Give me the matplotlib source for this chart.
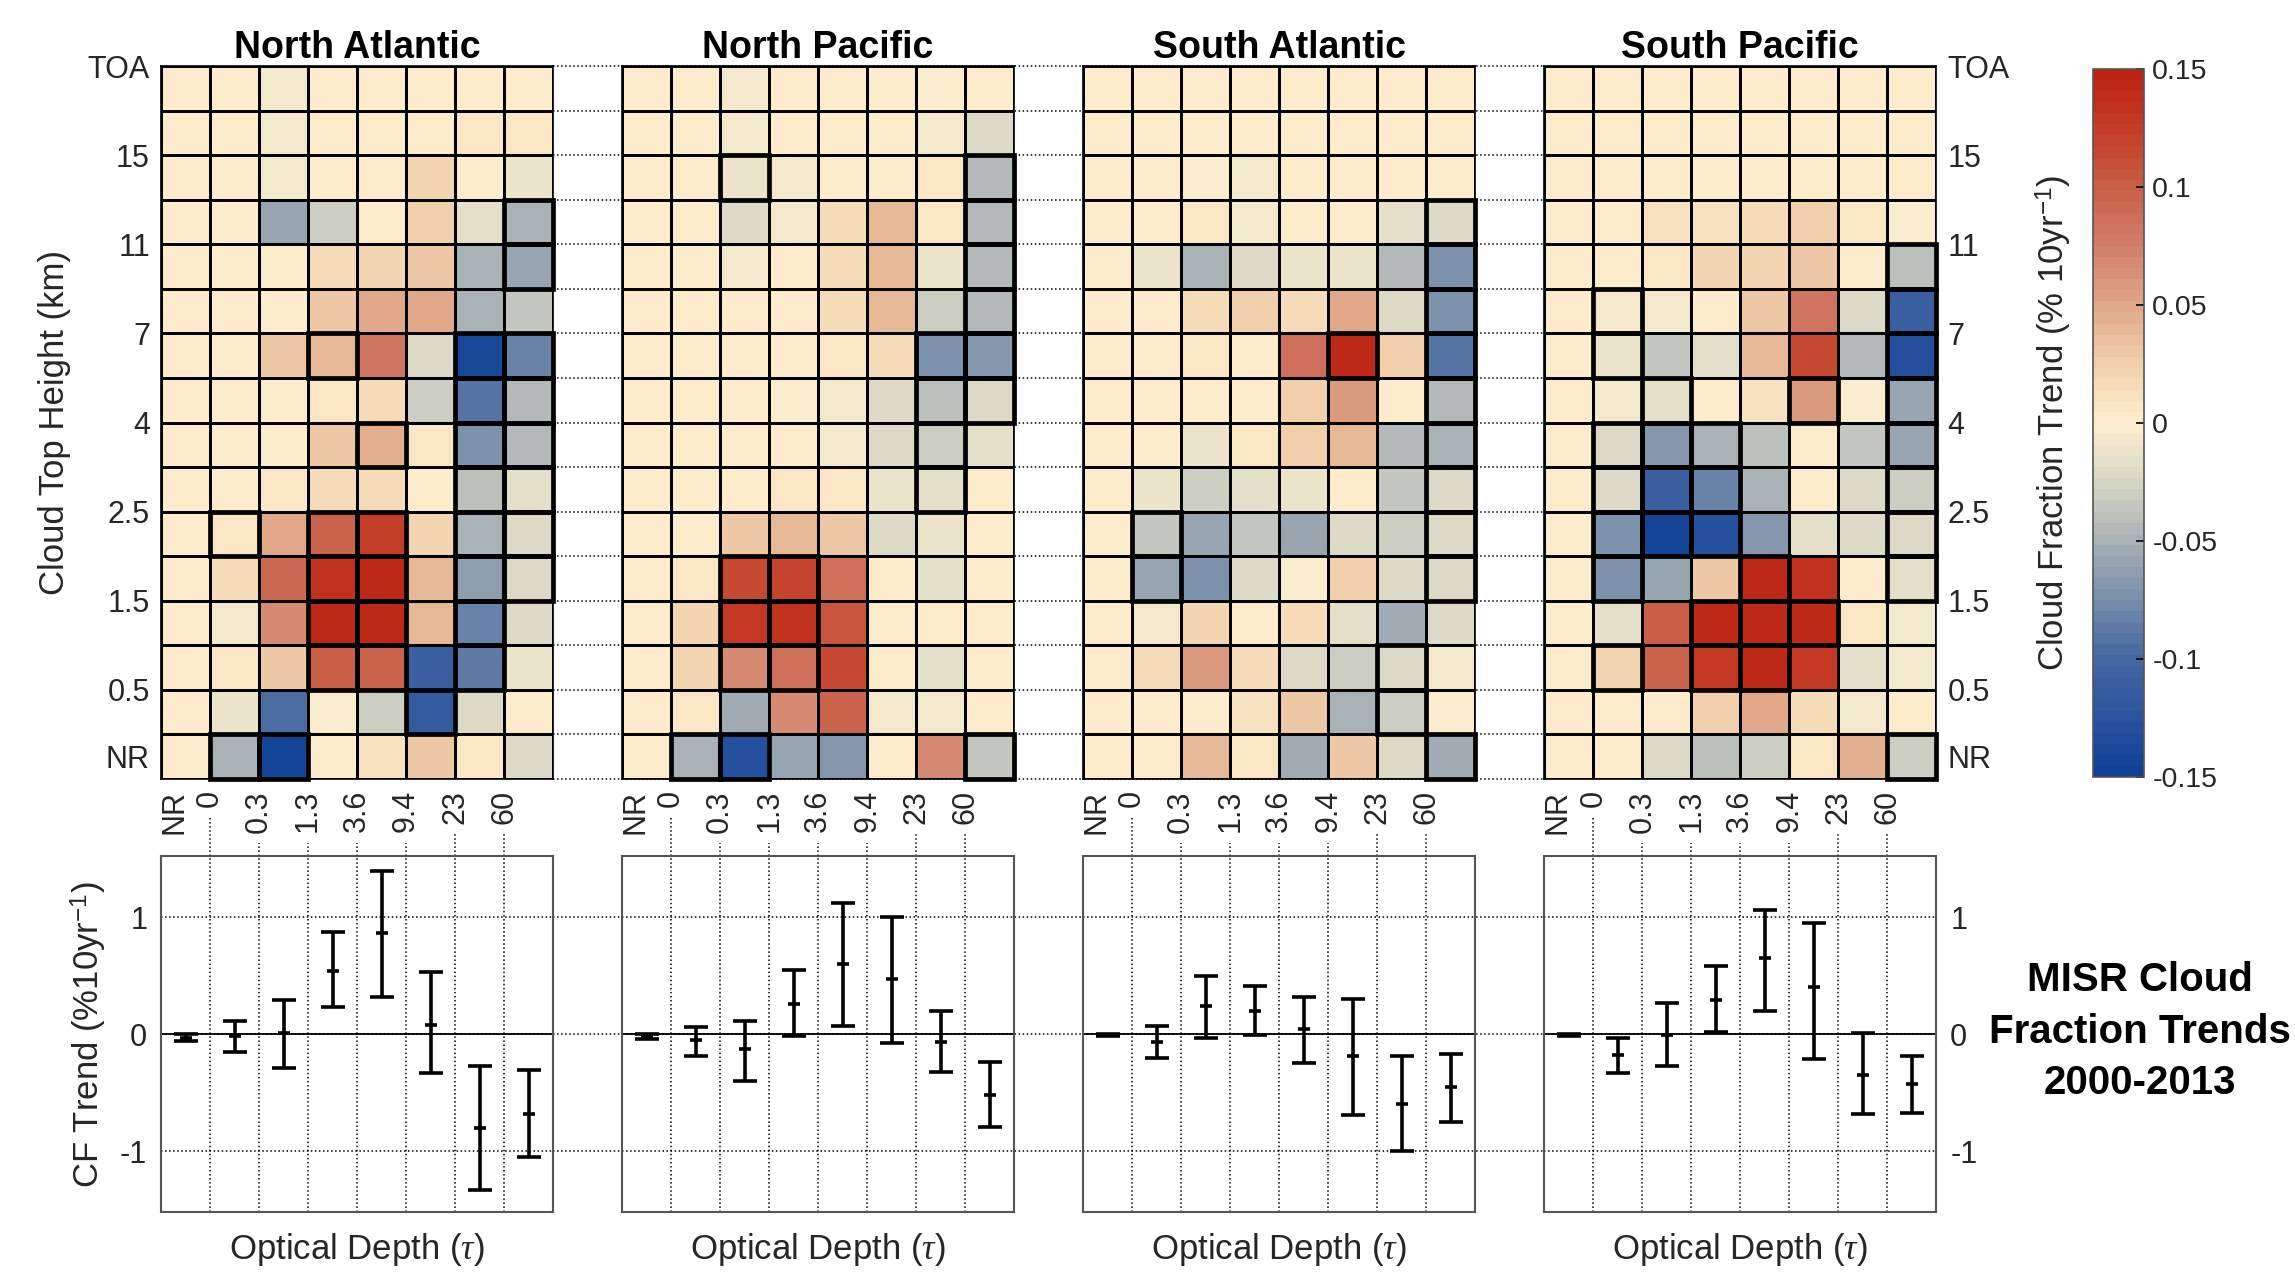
import numpy as np
import matplotlib
matplotlib.use('Agg')
import matplotlib.pyplot as plt
from matplotlib.colors import LinearSegmentedColormap
from matplotlib.patches import Rectangle

plt.rcParams['font.family'] = ['Liberation Sans', 'DejaVu Sans']
plt.rcParams['mathtext.fontset'] = 'custom'
plt.rcParams['mathtext.rm'] = 'Liberation Sans'
plt.rcParams['mathtext.it'] = 'Liberation Serif:italic'
plt.rcParams['axes.unicode_minus'] = False

regions = ['North Atlantic', 'North Pacific', 'South Atlantic', 'South Pacific']
height_labels = ['NR', '0.5', '1.5', '2.5', '4', '7', '11', '15', 'TOA']
tau_labels = ['NR', '0', '0.3', '1.3', '3.6', '9.4', '23', '60']

# CTH-OD trends (% 10yr-1), rows from TOA down to NR, columns NR, 0-0.3, ..., >60
trend_na = [
    [0, 0, -0.005, 0, 0, 0.001, 0.004, 0.004],
    [0, 0, -0.005, 0.001, 0.001, 0.002, 0.006, 0.005],
    [0, 0, -0.005, 0.001, 0.002, 0.022, 0.002, -0.012],
    [0, 0, -0.06, -0.03, 0.002, 0.028, -0.015, -0.05],
    [0, 0, 0.002, 0.018, 0.022, 0.03, -0.05, -0.06],
    [0, 0, 0.002, 0.03, 0.05, 0.047, -0.05, -0.035],
    [0, 0, 0.032, 0.04, 0.082, -0.02, -0.14, -0.08],
    [0, 0, 0.002, 0.007, 0.018, -0.03, -0.09, -0.045],
    [0, 0, 0.003, 0.03, 0.045, 0.007, -0.075, -0.045],
    [0, 0, 0.005, 0.015, 0.018, 0.001, -0.04, -0.015],
    [0, 0.006, 0.05, 0.095, 0.125, 0.022, -0.05, -0.022],
    [0, 0.015, 0.09, 0.135, 0.145, 0.04, -0.065, -0.022],
    [0, -0.005, 0.07, 0.145, 0.145, 0.04, -0.08, -0.02],
    [0, 0.006, 0.032, 0.1, 0.097, -0.11, -0.085, -0.01],
    [0, -0.012, -0.095, -0.004, -0.03, -0.115, -0.022, 0.002],
    [0, -0.05, -0.145, 0.003, 0.013, 0.032, 0.005, -0.022],
]
trend_np = [
    [0, 0, -0.005, 0.002, 0.002, 0.001, -0.002, 0.002],
    [0, 0, -0.005, 0.002, 0.002, 0.002, -0.006, -0.02],
    [0, 0, -0.01, -0.007, 0.002, 0.003, 0.008, -0.045],
    [0, 0.001, -0.02, -0.007, 0.018, 0.04, 0.008, -0.045],
    [0, 0, -0.007, 0.003, 0.015, 0.04, -0.01, -0.045],
    [0, 0, 0.002, 0.004, 0.015, 0.04, -0.03, -0.045],
    [0, 0, 0.001, 0.002, 0.006, 0.015, -0.075, -0.068],
    [0, 0, 0, -0.003, -0.005, -0.02, -0.04, -0.022],
    [0, 0, 0.002, 0, -0.007, -0.02, -0.03, -0.015],
    [0, 0, 0.003, 0.005, 0.006, -0.01, -0.015, 0.002],
    [0, 0, 0.032, 0.04, 0.032, -0.02, -0.01, 0.002],
    [0, 0.008, 0.115, 0.118, 0.085, 0.001, -0.015, 0.002],
    [0, 0.022, 0.128, 0.132, 0.105, 0.001, 0.002, 0.004],
    [0, 0.022, 0.07, 0.085, 0.115, 0.002, -0.015, 0.003],
    [0, 0.008, -0.055, 0.07, 0.095, -0.005, -0.005, 0.002],
    [0, -0.05, -0.13, -0.06, -0.068, 0.002, 0.07, -0.035],
]
trend_sa = [
    [0, 0, 0, 0, 0, 0.001, 0, 0],
    [0, 0, 0, 0, 0, 0, 0, 0],
    [0, 0, -0.004, -0.006, 0, 0, 0, 0],
    [0, 0, 0.006, -0.006, 0.001, 0.001, -0.015, -0.022],
    [0, -0.01, -0.05, -0.02, -0.01, -0.01, -0.045, -0.075],
    [0, 0.002, 0.018, 0.028, 0.015, 0.05, -0.022, -0.075],
    [0, 0.002, 0.005, 0.002, 0.085, 0.145, 0.028, -0.09],
    [0, 0, 0.001, 0.002, 0.028, 0.06, 0.001, -0.045],
    [0, 0, -0.01, 0.005, 0.028, 0.04, -0.045, -0.05],
    [0, -0.01, -0.03, -0.015, -0.01, 0.002, -0.035, -0.022],
    [0, -0.035, -0.06, -0.035, -0.06, -0.022, -0.03, -0.022],
    [0, -0.06, -0.075, -0.02, -0.004, 0.028, -0.02, -0.022],
    [0, -0.005, 0.022, 0.002, 0.015, -0.015, -0.055, -0.022],
    [0, 0.018, 0.06, 0.018, -0.02, -0.03, -0.022, -0.006],
    [0, 0.002, 0.004, 0.012, 0.032, -0.05, -0.03, -0.003],
    [0, 0.004, 0.038, 0.006, -0.055, 0.032, -0.02, -0.055],
]
trend_sp = [
    [0, 0, 0, 0.001, 0.002, 0.001, 0.002, 0.002],
    [0, 0, 0, 0, 0.001, 0.001, 0.002, 0.001],
    [0, 0, 0.001, 0.001, 0.002, 0.004, 0.003, 0.001],
    [0, 0.001, 0.014, 0.014, 0.018, 0.028, 0.006, -0.004],
    [0, 0, 0.008, 0.022, 0.022, 0.032, 0.003, -0.04],
    [0, -0.006, -0.006, 0.002, 0.032, 0.082, -0.02, -0.11],
    [0, -0.01, -0.035, -0.015, 0.04, 0.115, -0.045, -0.13],
    [0, -0.007, -0.015, 0.002, 0.014, 0.06, -0.003, -0.06],
    [0, -0.02, -0.068, -0.05, -0.04, 0.002, -0.035, -0.06],
    [0, -0.022, -0.11, -0.08, -0.05, 0.002, -0.022, -0.03],
    [0, -0.075, -0.145, -0.13, -0.068, -0.015, -0.022, -0.022],
    [0, -0.075, -0.06, 0.032, 0.145, 0.132, 0.003, -0.015],
    [0, -0.015, 0.1, 0.145, 0.145, 0.145, 0.006, -0.006],
    [0, 0.022, 0.095, 0.128, 0.145, 0.128, -0.015, -0.006],
    [0, 0.002, 0.003, 0.028, 0.05, 0.018, -0.006, 0.001],
    [0, 0.003, -0.022, -0.04, -0.03, 0.006, 0.045, -0.03],
]

# significant bins as (height bin counted from NR, optical depth bin)
sig_na = [(12, 7), (11, 7), (9, 7), (8, 7), (7, 7), (6, 7), (5, 7), (4, 7),
          (9, 3), (7, 4), (5, 1), (5, 3), (4, 3), (3, 3), (2, 3),
          (5, 4), (4, 4), (3, 4), (2, 4), (9, 6), (8, 6), (7, 6), (6, 6),
          (5, 6), (4, 6), (3, 6), (2, 6), (1, 5), (0, 1), (0, 2)]
sig_np = [(13, 2), (13, 7), (12, 7), (11, 7), (10, 7), (9, 7), (8, 7),
          (9, 6), (8, 6), (7, 6), (6, 6), (4, 2), (3, 2), (2, 2),
          (4, 3), (3, 3), (2, 3), (0, 1), (0, 2), (0, 7)]
sig_sa = [(12, 7), (11, 7), (10, 7), (9, 7), (8, 7), (7, 7), (6, 7), (5, 7),
          (4, 7), (9, 5), (5, 1), (4, 1), (2, 6), (1, 6), (0, 7)]
sig_sp = [(10, 1), (9, 1), (8, 2), (8, 5), (7, 1), (6, 1), (5, 1), (4, 1),
          (7, 2), (6, 2), (5, 2), (7, 3), (6, 3), (5, 3), (11, 7), (10, 7),
          (9, 7), (8, 7), (7, 7), (6, 7), (5, 7), (4, 7), (4, 4), (3, 4),
          (2, 4), (3, 3), (2, 3), (3, 5), (2, 1), (0, 7)]

# height-integrated CF trend per optical depth bin with its uncertainty range
cf_na = [-0.03, -0.02, 0.01, 0.54, 0.86, 0.08, -0.80, -0.68]
lo_na = [-0.06, -0.15, -0.29, 0.23, 0.32, -0.33, -1.33, -1.05]
hi_na = [0.0, 0.11, 0.29, 0.87, 1.39, 0.53, -0.27, -0.31]
cf_np = [-0.02, -0.05, -0.13, 0.26, 0.60, 0.47, -0.07, -0.52]
lo_np = [-0.04, -0.19, -0.40, -0.02, 0.07, -0.08, -0.32, -0.79]
hi_np = [0.0, 0.06, 0.11, 0.55, 1.12, 1.0, 0.20, -0.24]
cf_sa = [-0.01, -0.07, 0.24, 0.20, 0.04, -0.19, -0.60, -0.45]
lo_sa = [-0.02, -0.20, -0.03, -0.01, -0.25, -0.69, -1.0, -0.75]
hi_sa = [0.0, 0.07, 0.50, 0.41, 0.32, 0.30, -0.19, -0.17]
cf_sp = [-0.01, -0.18, -0.01, 0.29, 0.65, 0.40, -0.35, -0.43]
lo_sp = [-0.02, -0.33, -0.27, 0.02, 0.20, -0.21, -0.68, -0.67]
hi_sp = [0.0, -0.03, 0.27, 0.58, 1.06, 0.95, 0.01, -0.19]

trends = [trend_na, trend_np, trend_sa, trend_sp]
sigs = [sig_na, sig_np, sig_sa, sig_sp]
cfs = [cf_na, cf_np, cf_sa, cf_sp]
los = [lo_na, lo_np, lo_sa, lo_sp]
his = [hi_na, hi_np, hi_sa, hi_sp]

cmap = LinearSegmentedColormap.from_list('trend', [
    (0.0, '#0F4094'), (1/12, '#2A55A0'), (2/12, '#4668A0'), (3/12, '#7A8FAA'),
    (4/12, '#A9B2B5'), (5/12, '#D7D7C6'), (6/12, '#FDEFCF'), (7/12, '#F2D1AD'),
    (8/12, '#E0A888'), (9/12, '#D2806A'), (10/12, '#C96049'),
    (11/12, '#C43E27'), (1.0, '#BD2312')], N=64)

fig = plt.figure(figsize=(22.95, 12.8), dpi=100)

x0, dx, w = 0.0702, 0.2009, 0.1708
hm_y, hm_h = 0.3914, 0.557
bt_y, bt_h = 0.0531, 0.278
ylo, yhi = -1.52, 1.52

hm_axes, bt_axes = [], []
for i in range(4):
    ax = fig.add_axes([x0 + i * dx, hm_y, w, hm_h])
    data = np.flipud(np.array(trends[i]))
    mesh = ax.pcolormesh(np.arange(9), np.arange(17), data, cmap=cmap,
                         vmin=-0.15, vmax=0.15, edgecolors='k', linewidth=1.0)
    for r, c in sigs[i]:
        ax.add_patch(Rectangle((c, r), 1, 1, fill=False, ec='k', lw=3.4,
                               zorder=3, clip_on=False))
    ax.set_xlim(0, 8)
    ax.set_ylim(0, 16)
    # the NR label sits left of the first boundary so it clears the "0"
    ax.set_xticks([0.27, 1, 2, 3, 4, 5, 6, 7])
    ax.set_xticklabels(tau_labels, rotation=90, fontsize=22, color='#262626')
    ax.set_yticks([0.5, 2, 4, 6, 8, 10, 12, 14, 16])
    ax.set_yticklabels(height_labels, fontsize=22, color='#262626')
    ax.tick_params(length=0, pad=8)
    if i == 0:
        ax.set_ylabel('Cloud Top Height (km)', fontsize=25, color='#262626',
                      labelpad=12)
    elif i == 3:
        ax.yaxis.tick_right()
    else:
        ax.tick_params(labelleft=False)
    for s in ax.spines.values():
        s.set_linewidth(1.2)
    ax.set_title(regions[i], fontsize=27, fontweight='bold', pad=6)
    hm_axes.append(ax)

    bx = fig.add_axes([x0 + i * dx, bt_y, w, bt_h])
    xc = np.arange(8) + 0.5
    cf = np.array(cfs[i])
    err = [cf - np.array(los[i]), np.array(his[i]) - cf]
    bx.errorbar(xc, cf, yerr=err, fmt='none', ecolor='k', elinewidth=2.6,
                capsize=8.5, capthick=2.6, zorder=4)
    bx.plot(xc, cf, ls='none', marker='_', ms=8, mew=2.6, color='k', zorder=5)
    bx.axhline(0, color='k', lw=1.3, zorder=2)
    bx.set_xlim(0, 8)
    bx.set_ylim(ylo, yhi)
    bx.set_xticks(range(1, 8))
    bx.set_yticks([-1, 0, 1])
    bx.set_yticklabels(['-1', '0', '1'], fontsize=22, color='#262626')
    bx.tick_params(axis='x', length=0, labelbottom=False)
    bx.tick_params(axis='y', length=0, pad=10)
    bx.grid(True, ls=':', color='k', lw=1.1)
    bx.set_xlabel('Optical Depth ($\\tau$)', fontsize=25, color='#262626',
                  labelpad=14)
    if i == 0:
        bx.set_ylabel('CF Trend (%10yr$^{-1}$)', fontsize=25, color='#262626',
                      labelpad=8)
    elif i == 3:
        bx.yaxis.tick_right()
    else:
        bx.tick_params(labelleft=False)
    for s in bx.spines.values():
        s.set_color('#555555')
        s.set_linewidth(1.5)
    bt_axes.append(bx)

cax = fig.add_axes([0.912, 0.393, 0.0222, 0.553])
cb = fig.colorbar(mesh, cax=cax, ticks=[-0.15, -0.1, -0.05, 0, 0.05, 0.1, 0.15])
cb.ax.set_yticklabels(['-0.15', '-0.1', '-0.05', '0', '0.05', '0.1', '0.15'],
                      fontsize=20.5, color='#262626')
cb.ax.tick_params(direction='in', length=6, width=1.2, pad=6)
cb.outline.set_linewidth(1.2)
cb.outline.set_edgecolor('#555555')
cb.set_label('Cloud Fraction Trend (% 10yr$^{-1}$)', fontsize=25,
             color='#262626', labelpad=14)
cb.ax.yaxis.set_label_position('left')

fig.text(0.9325, 0.194, 'MISR Cloud\nFraction Trends\n2000-2013', ha='center',
         va='center', fontsize=29, fontweight='bold', linespacing=1.45)

# dotted guide lines running through the gaps between the panels
bg = fig.add_axes([0, 0, 1, 1], zorder=-5)
bg.set_xlim(0, 1)
bg.set_ylim(0, 1)
bg.axis('off')
x_a = x0 + w
x_b = x0 + 3 * dx
for k in range(17):
    yk = hm_y + hm_h * k / 16
    bg.plot([x_a, x_b], [yk, yk], ls=':', color='k', lw=1.1)
for v in [-1, 0, 1]:
    yv = bt_y + bt_h * (v - ylo) / (yhi - ylo)
    bg.plot([x_a, x_b], [yv, yv], ls=':', color='k', lw=1.1)

fig.canvas.draw()
inv = fig.transFigure.inverted()
for i, ax in enumerate(hm_axes):
    labs = ax.get_xticklabels()
    for j in range(1, 8):
        bb = labs[j].get_window_extent().transformed(inv)
        xj = x0 + i * dx + w * j / 8
        bg.plot([xj, xj], [bt_y + bt_h, bb.y0 - 0.008], ls=':', color='k',
                lw=1.1)

fig.savefig('out.png', dpi=100)
